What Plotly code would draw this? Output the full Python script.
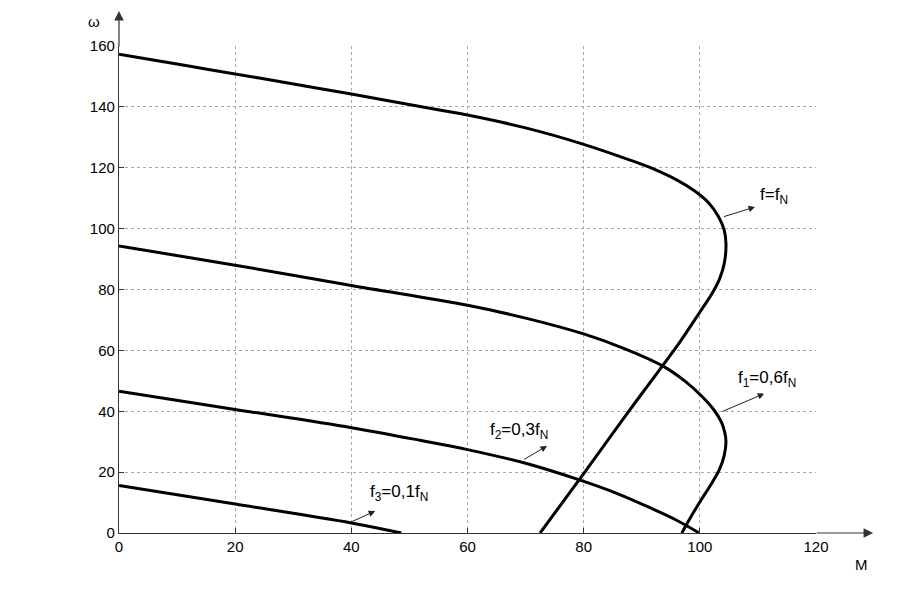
import plotly.graph_objects as go

# f = fN
m_fn = [0, 12, 24.4, 40, 55.4, 60, 70, 80, 88, 92, 96, 99, 101.5, 103.2, 104.2, 104.5, 104.2, 103.4, 102.2, 100.5, 98, 96, 93.6, 87, 80, 72.5]
w_fn = [157.3, 153.4, 149.4, 144.2, 138.9, 137.3, 133.1, 127.7, 122.5, 119.6, 116.0, 112.5, 108.5, 104.0, 99.5, 95.0, 88.5, 83.5, 79.0, 74.0, 66.8, 61.2, 55.0, 38.0, 19.5, 0.0]

# f1 = 0.6 fN
m_f1 = [0, 20, 40, 60, 70, 80, 87, 93.6, 97.5, 100.3, 102.4, 103.7, 104.3, 104.5, 104.2, 103.4, 102, 100, 98, 96.9]
w_f1 = [94.3, 88.0, 81.3, 74.8, 70.6, 65.4, 60.6, 54.9, 49.8, 45.0, 40.5, 36.5, 33.0, 30.0, 25.5, 21.0, 16.2, 10.2, 3.8, 0.0]

# f2 = 0.3 fN
m_f2 = [0, 20, 40, 52, 60, 70, 79, 86, 92, 96, 99.9]
w_f2 = [46.6, 40.6, 34.6, 30.4, 27.4, 22.9, 17.6, 12.8, 7.8, 4.2, 0.0]

# f3 = 0.1 fN
m_f3 = [0, 20, 40, 48.6]
w_f3 = [15.6, 9.5, 3.3, 0.0]

x_ticks = [0, 20, 40, 60, 80, 100, 120]
y_ticks = [0, 20, 40, 60, 80, 100, 120, 140, 160]

labels = ["f=f<sub>N</sub>", "f<sub>1</sub>=0,6f<sub>N</sub>", "f<sub>2</sub>=0,3f<sub>N</sub>", "f<sub>3</sub>=0,1f<sub>N</sub>"]
label_pos = [(110.0, 110.7), (106.2, 50.6), (63.5, 33.5), (42.8, 13.1)]
arrow_tail = [(103.9, 103.8), (103.6, 39.7), (69.5, 23.9), (39.7, 3.4)]
arrow_head = [(109.5, 107.1), (111.1, 45.8), (73.7, 28.6), (44.1, 7.2)]

FONT = "Liberation Sans, Arial, sans-serif"

fig = go.Figure()
for mx, wy in [(m_fn, w_fn), (m_f1, w_f1), (m_f2, w_f2), (m_f3, w_f3)]:
    fig.add_trace(go.Scatter(x=mx, y=wy, mode="lines",
                             line=dict(color="black", width=3, shape="spline", smoothing=1.0),
                             showlegend=False, hoverinfo="skip"))

for txt, (tx, ty) in zip(labels, label_pos):
    fig.add_annotation(x=tx, y=ty, xref="x", yref="y", text=txt, showarrow=False,
                       xanchor="left", yanchor="middle",
                       font=dict(family=FONT, size=17, color="black"))

for (ax_, ay_), (hx, hy) in zip(arrow_tail, arrow_head):
    fig.add_annotation(x=hx, y=hy, ax=ax_, ay=ay_, xref="x", yref="y", axref="x", ayref="y",
                       text="", showarrow=True, arrowhead=2, arrowsize=1.3, arrowwidth=1,
                       arrowcolor="#222")

# axis arrows
fig.add_annotation(x=1.082, y=0, xref="paper", yref="y", ax=-58, ay=0, text="",
                   showarrow=True, arrowhead=2, arrowsize=1.6, arrowwidth=1.2, arrowcolor="#333")
fig.add_annotation(x=0, y=1.072, xref="x", yref="paper", ax=0, ay=37, text="",
                   showarrow=True, arrowhead=2, arrowsize=1.6, arrowwidth=1.2, arrowcolor="#333")

fig.add_annotation(x=-0.036, y=1.051, xref="paper", yref="paper", text="ω", showarrow=False,
                   xanchor="center", yanchor="middle",
                   font=dict(family=FONT, size=15, color="black"))
fig.add_annotation(x=1.065, y=-0.064, xref="paper", yref="paper", text="M", showarrow=False,
                   xanchor="center", yanchor="middle",
                   font=dict(family=FONT, size=15, color="black"))

axis_common = dict(showline=True, linecolor="#333", linewidth=1.2, ticks="inside", ticklen=5,
                   tickcolor="#333", showgrid=True, gridcolor="#a8a8a8", griddash="dot",
                   gridwidth=1, zeroline=False, automargin=False,
                   tickfont=dict(family=FONT, size=15, color="black"))

fig.update_xaxes(range=[0, 120], tickvals=x_ticks, **axis_common)
fig.update_yaxes(range=[0, 160], tickvals=y_ticks, **axis_common)

fig.update_layout(width=900, height=600, margin=dict(l=111, r=92, t=38, b=75, autoexpand=False),
                  plot_bgcolor="white", paper_bgcolor="white",
                  font=dict(family=FONT, size=15, color="black"))

fig.write_html("out.html")
